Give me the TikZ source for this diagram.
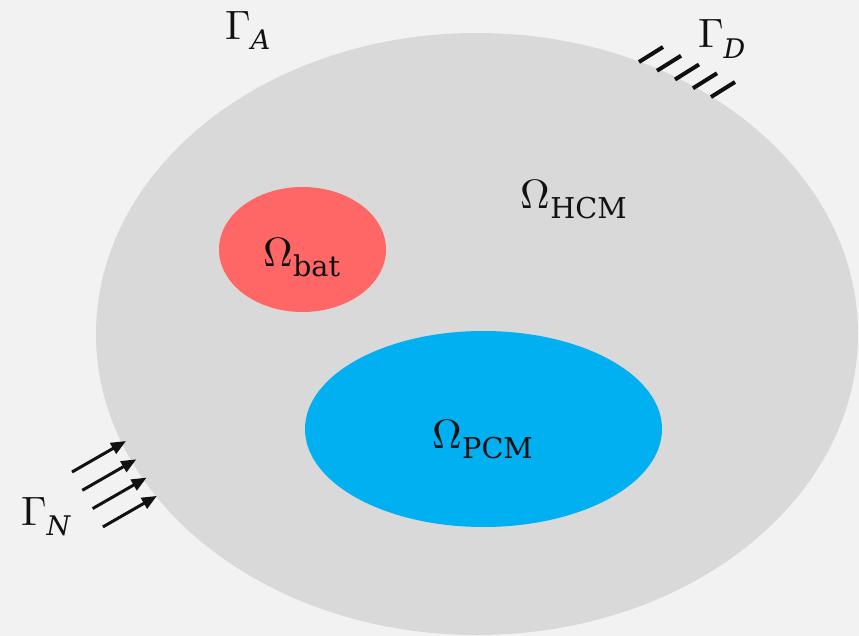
\documentclass[tikz,border=0pt]{standalone}
\usepackage{unicode-math}
\setmathfont{Latin Modern Math}
\setmathrm{DejaVu Serif}
\newfontfamily\dvserif{DejaVu Serif}
\newcommand{\itsub}[1]{\hbox{\fontsize{27}{30}\selectfont\dvserif\itshape #1}}
\usetikzlibrary{arrows.meta}
\definecolor{bg}{HTML}{F2F2F2}
\definecolor{hcm}{HTML}{D9D9D9}
\definecolor{bat}{HTML}{FF6666}
\definecolor{pcm}{HTML}{00B0F0}
\definecolor{ink}{HTML}{111111}
\begin{document}
\begin{tikzpicture}[x=1pt,y=-1pt,
  lab/.style={inner sep=0pt,text=ink,font=\fontsize{41}{48}\selectfont},
  hatch/.style={line width=4pt,draw=ink},
  flux/.style={line width=3pt,draw=ink,-{Triangle[length=15pt,width=12pt]}}]
\fill[bg] (0,0) rectangle (859,636);
\useasboundingbox (0,0) rectangle (859,636);
\fill[hcm] (477,334) ellipse [x radius=381, y radius=301];
\fill[bat] (302.5,249.5) ellipse [x radius=83.5, y radius=62.5];
\fill[pcm] (483.5,429) ellipse [x radius=178.5, y radius=98];
\node[lab] (gA) at (248,31) {$\Gamma_{\itsub{A}}$};
\node[lab] (gD) at (722,39) {$\Gamma_{\itsub{D}}$};
\node[lab] (gN) at (46,517) {$\Gamma_{\itsub{N}}$};
\node[lab] (oH) at (574,199) {$\Omega_{\mathrm{HCM}}$};
\node[lab] (oB) at (302,257) {$\Omega_{\mathrm{bat}}$};
\node[lab] (oP) at (483,439) {$\Omega_{\mathrm{PCM}}$};
\foreach \i in {0,...,4}{
  \coordinate (h\i a) at ({639+18*\i},{62+8.75*\i});
  \coordinate (h\i b) at ({663+18*\i},{47+8.75*\i});
  \draw[hatch] (h\i a) -- (h\i b);
}
\foreach \i in {0,...,3}{
  \coordinate (f\i a) at ({72+10.3*\i},{472+18.3*\i});
  \coordinate (f\i b) at ({126+10.3*\i},{441+18.3*\i});
  \draw[flux] (f\i a) -- (f\i b);
}
\end{tikzpicture}
\end{document}
